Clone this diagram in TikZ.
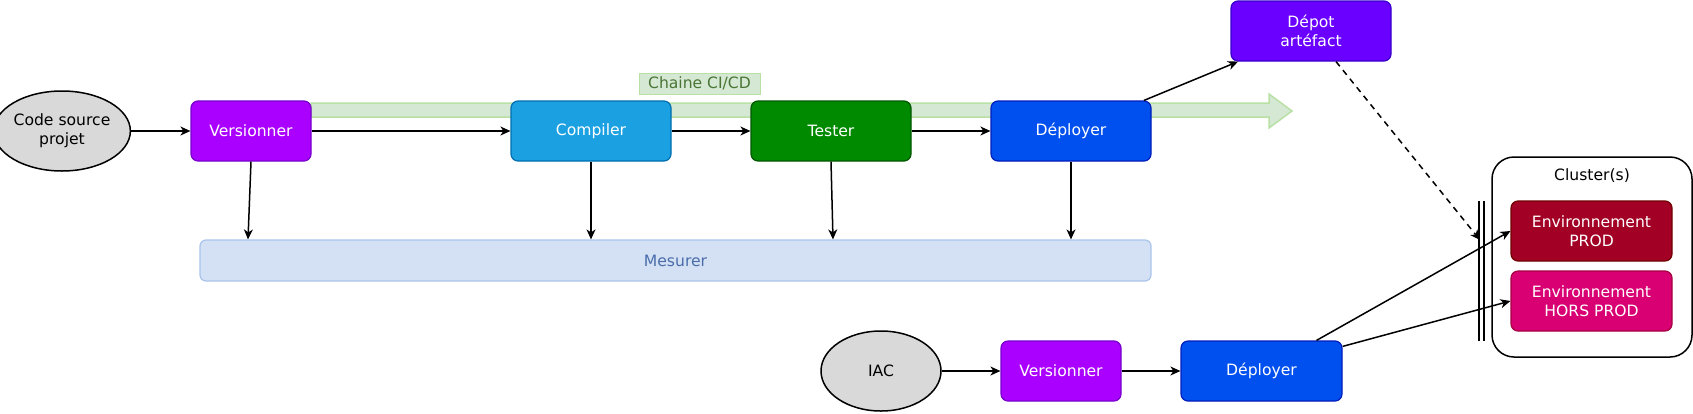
\documentclass[tikz,border=0pt]{standalone}
\usepackage{fontspec}
\setmainfont{DejaVu Sans}
\usetikzlibrary{arrows.meta,shapes.geometric}
\definecolor{grisfond}{HTML}{D9D9D9}
\definecolor{violetvers}{HTML}{AA00FF}\definecolor{violetversb}{HTML}{7700CC}
\definecolor{bleucomp}{HTML}{1BA1E2}\definecolor{bleucompb}{HTML}{006EAF}
\definecolor{verttest}{HTML}{008A00}\definecolor{verttestb}{HTML}{005700}
\definecolor{bleudepl}{HTML}{0050EF}\definecolor{bleudeplb}{HTML}{001DBC}
\definecolor{violetdepot}{HTML}{6A00FF}\definecolor{violetdepotb}{HTML}{3700CC}
\definecolor{rougeprod}{HTML}{A20025}\definecolor{rougeprodb}{HTML}{6F0000}
\definecolor{roseprod}{HTML}{D80073}\definecolor{roseprodb}{HTML}{A50040}
\definecolor{bleumes}{HTML}{D4E1F5}\definecolor{bleumesb}{HTML}{A9C4EB}\definecolor{bleumest}{HTML}{4A6DAA}
\definecolor{vertchaine}{HTML}{D5E8D4}\definecolor{vertchaineb}{HTML}{B9E0A5}\definecolor{vertchainet}{HTML}{4A7534}
\tikzset{>={Stealth[length=10pt,width=9pt,inset=3pt]}}
\tikzset{
  etape/.style={draw,line width=1.2pt,rounded corners=7pt,minimum width=160pt,minimum height=60pt,
    inner sep=0pt,text=white,align=center},
  source/.style={ellipse,draw,line width=1.5pt,fill=grisfond,minimum width=120pt,minimum height=80pt,
    inner sep=0pt,align=center},
  fleche/.style={->,line width=1.5pt},
}

\begin{document}
\begin{tikzpicture}[x=1pt,y=-1pt,font=\fontsize{15.6}{19}\selectfont]
    \useasboundingbox (0,0) rectangle (1693,413);
    % bande CI/CD
    \draw[fill=vertchaine,draw=vertchaineb,line width=1.5pt] (311,103) -- (1269,103) -- (1269,94)
      -- (1292,111) -- (1269,128) -- (1269,117) -- (311,117) -- cycle;
    \node[fill=vertchaine,draw=vertchaineb,text=vertchainet,minimum width=121pt,minimum height=21pt,inner sep=0pt] (chaine) at (699.5,83.5) {Chaine CI/CD};

    \node[source] (code) at (62,131) {Code source\\projet};
    \node[etape,fill=violetvers,draw=violetversb,minimum width=120pt] (vers) at (251,131) {Versionner};
    \node[etape,fill=bleucomp,draw=bleucompb] (comp) at (591,131) {Compiler};
    \node[etape,fill=verttest,draw=verttestb] (test) at (831,131) {Tester};
    \node[etape,fill=bleudepl,draw=bleudeplb] (depl) at (1071,131) {Déployer};
    \node[etape,fill=violetdepot,draw=violetdepotb] (depot) at (1311,31) {Dépot\\artéfact};
    \node[etape,fill=bleumes,draw=bleumesb,text=bleumest,minimum width=951pt,minimum height=41pt,rounded corners=6pt] (mes) at (675.5,260.5) {Mesurer};

    \foreach\a/\b in {code/vers,vers/comp,comp/test,test/depl}{
     \draw[fleche] (\a) -- (\b);}
    \foreach\n/\d in {vers/-3,comp/0,test/2,depl/0}{
     \draw[fleche] (\n.south) -- ([xshift=\d pt]\n.south |- mes.north);}
    \draw[fleche] ([xshift=73pt]depl.north) -- ([xshift=-73pt]depot.south);

    % cluster
    \node[draw,line width=1.5pt,rounded corners=22pt,minimum width=200pt,minimum height=200pt] (clus) at (1592,257) {};
    \node (clustitre) at (1592,176) {Cluster(s)};
    \node[etape,fill=rougeprod,draw=rougeprodb,minimum width=161pt] (prod) at (1591.5,231) {Environnement\\PROD};
    \node[etape,fill=roseprod,draw=roseprodb,minimum width=161pt] (hors) at (1591.5,301) {Environnement\\HORS PROD};
    \coordinate (barreA) at (1479,201);
    \coordinate (barreB) at (1484,201);
    \draw[line width=1.5pt] (barreA) -- ++(0,140) (barreB) -- ++(0,140);
    \coordinate (arrivee) at (1480,240);
    \draw[fleche,dash pattern=on 6pt off 5pt] ([xshift=25pt]depot.south) -- (arrivee);

    % IAC
    \node[source] (iac) at (881,371) {IAC};
    \node[etape,fill=violetvers,draw=violetversb,minimum width=120pt] (versiac) at (1061,371) {Versionner};
    \node[etape,fill=bleudepl,draw=bleudeplb,minimum width=161pt] (deplIac) at (1261.5,371) {Déployer};
    \draw[fleche] (iac) -- (versiac);
    \draw[fleche] (versiac) -- (deplIac);
    \draw[fleche] ([xshift=55pt]deplIac.north) -- (prod.west);
    \draw[fleche] ([yshift=-6pt]deplIac.north east) -- (hors.west);
  \end{tikzpicture}
\end{document}
